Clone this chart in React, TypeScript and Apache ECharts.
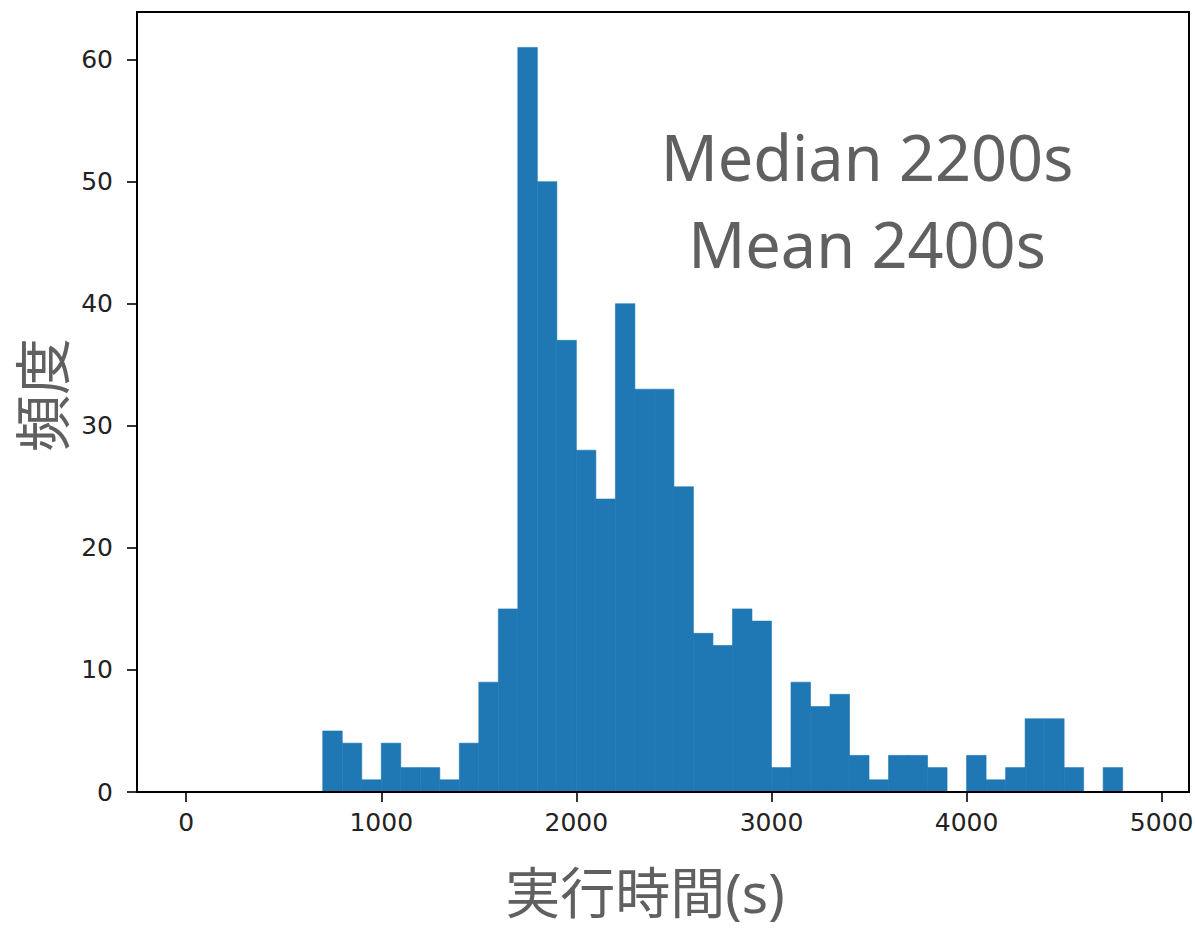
import React, { useEffect, useRef } from "react";
import * as echarts from "echarts";

const BIN_LEFT = [
  700, 800, 900, 1000, 1100, 1200, 1300, 1400, 1500, 1600,
  1700, 1800, 1900, 2000, 2100, 2200, 2300, 2400, 2500, 2600,
  2700, 2800, 2900, 3000, 3100, 3200, 3300, 3400, 3500, 3600,
  3700, 3800, 3900, 4000, 4100, 4200, 4300, 4400, 4500, 4600, 4700,
];
const BIN_WIDTH = 100;
const COUNTS = [
  5, 4, 1, 4, 2, 2, 1, 4, 9, 15,
  61, 50, 37, 28, 24, 40, 33, 33, 25, 13,
  12, 15, 14, 2, 9, 7, 8, 3, 1, 3,
  3, 2, 0, 3, 1, 2, 6, 6, 2, 0, 2,
];
const X_TICKS = [0, 1000, 2000, 3000, 4000, 5000];
const Y_TICKS = [0, 10, 20, 30, 40, 50, 60];
const X_NAME = "実行時間(s)";
const Y_NAME = "頻度";
const NOTE_LINES = ["Median 2200s", "Mean 2400s"];

const GRAY = "#606060";
const BLUE = "#1f77b4";
const FONT = "'Noto Sans', 'Noto Sans CJK JP', sans-serif";

export default function App() {
  const ref = useRef<HTMLDivElement>(null);
  useEffect(() => {
    if (!ref.current) return;
    const chart = echarts.init(ref.current, null, { renderer: "svg" });
    const data = BIN_LEFT.map((l, i) => [l, l + BIN_WIDTH, COUNTS[i]]);
    chart.setOption({
      animation: false,
      backgroundColor: "#ffffff",
      grid: {
        left: 137,
        top: 12,
        right: 6,
        bottom: 136,
        outerBoundsMode: "none",
        containLabel: false,
        show: true,
        borderColor: "#000",
        borderWidth: 2,
        backgroundColor: "transparent",
      },
      xAxis: {
        type: "value",
        min: -252,
        max: 5140,
        z: 10,
        name: X_NAME,
        nameLocation: "middle",
        nameGap: 72,
        nameTextStyle: {
          fontFamily: FONT,
          fontSize: 55,
          color: GRAY,
          padding: [0, 36, 0, 0],
        },
        splitLine: { show: false },
        axisLine: { show: true, onZero: false, lineStyle: { color: "#000", width: 2 } },
        axisTick: {
          show: true,
          length: 10,
          inside: false,
          customValues: X_TICKS,
          lineStyle: { color: "#000", width: 1.6 },
        },
        axisLabel: {
          customValues: X_TICKS,
          margin: 18,
          formatter: (v: number) => String(v),
          fontFamily: "'DejaVu Sans', sans-serif",
          fontSize: 25,
          color: "#222",
        },
      },
      yAxis: {
        type: "value",
        min: 0,
        max: 63.9,
        z: 10,
        name: Y_NAME,
        nameLocation: "middle",
        nameRotate: 90,
        nameGap: 66,
        nameTextStyle: {
          fontFamily: FONT,
          fontSize: 57,
          color: GRAY,
          padding: [0, 0, 0, 14],
        },
        splitLine: { show: false },
        axisLine: { show: true, onZero: false, lineStyle: { color: "#000", width: 2 } },
        axisTick: {
          show: true,
          length: 10,
          inside: false,
          customValues: Y_TICKS,
          lineStyle: { color: "#000", width: 1.6 },
        },
        axisLabel: {
          customValues: Y_TICKS,
          margin: 24,
          formatter: (v: number) => String(v),
          fontFamily: "'DejaVu Sans', sans-serif",
          fontSize: 25,
          color: "#222",
        },
      },
      graphic: NOTE_LINES.map((t, i) => ({
        type: "text",
        x: 867,
        y: 156 + i * 87,
        z: 20,
        style: {
          text: t,
          fontFamily: FONT,
          fontSize: 63,
          fill: GRAY,
          align: "center",
          verticalAlign: "middle",
        },
      })),
      series: [
        {
          type: "custom",
          data,
          encode: { x: [0, 1], y: 2 },
          renderItem: (params: any, api: any) => {
            const x0 = api.value(0);
            const x1 = api.value(1);
            const y = api.value(2);
            const p0 = api.coord([x0, y]);
            const p1 = api.coord([x1, 0]);
            return {
              type: "rect",
              shape: {
                x: p0[0],
                y: p0[1],
                width: p1[0] - p0[0],
                height: p1[1] - p0[1],
              },
              style: { fill: BLUE, stroke: BLUE, lineWidth: 0.6 },
            };
          },
        },
      ],
    });
    return () => chart.dispose();
  }, []);
  return (
    <div
      ref={ref}
      style={{ position: "fixed", left: 0, top: 0, width: 1195, height: 928 }}
    />
  );
}
